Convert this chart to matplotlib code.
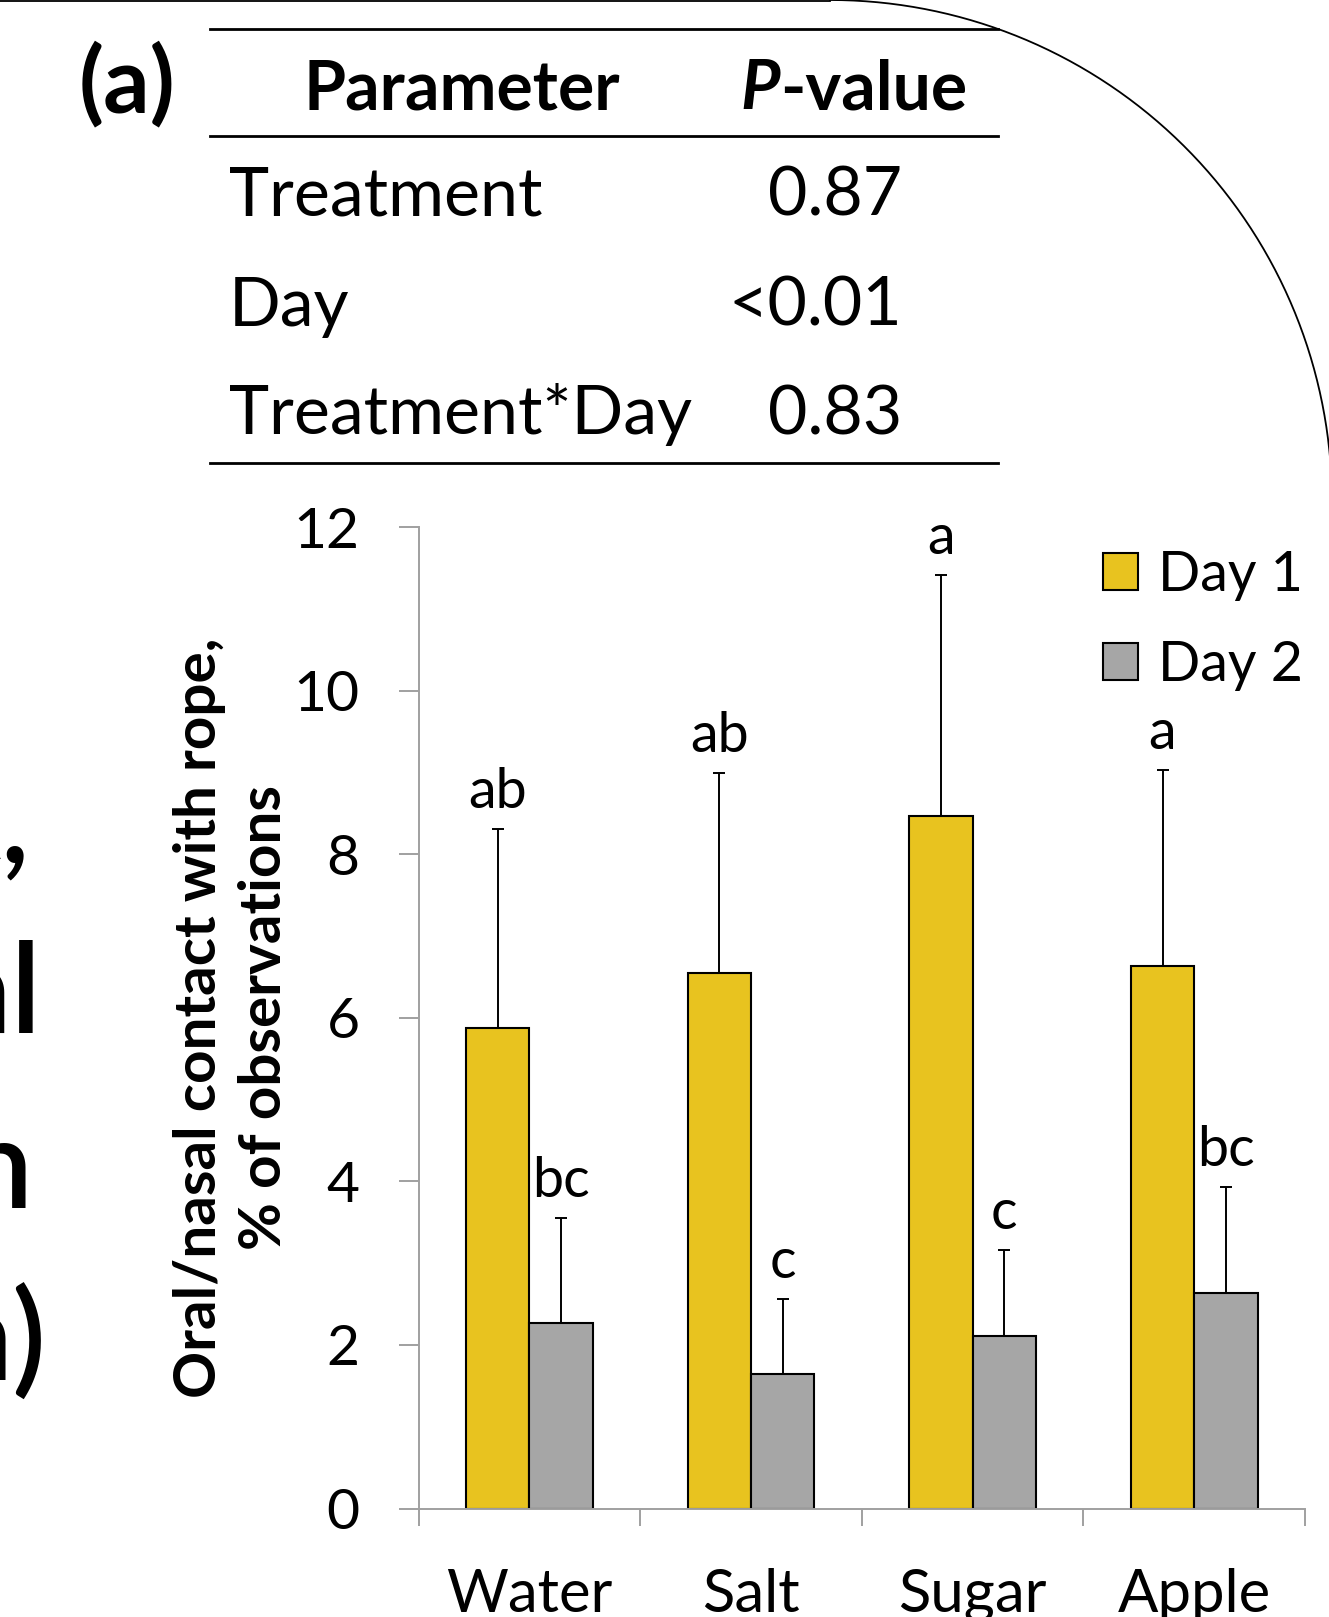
import matplotlib.pyplot as plt
import numpy as np

plt.rcParams['font.family'] = ['Lato', 'DejaVu Sans']

# --- data ---
treatments = ["Water", "Salt", "Sugar", "Apple"]
day1_mean = [5.87, 6.55, 8.47, 6.63]
day1_se = [2.44, 2.44, 2.94, 2.40]
day2_mean = [2.27, 1.64, 2.11, 2.63]
day2_se = [1.28, 0.92, 1.05, 1.30]
day1_letters = ["ab", "ab", "a", "a"]
day2_letters = ["bc", "c", "c", "bc"]

params = ["Treatment", "Day", "Treatment*Day"]
p_values = ["0.87", "<0.01", "0.83"]

yellow = "#E8C31F"
grey = "#A6A6A6"
axis_grey = "#A0A0A0"

W, H = 1329, 1617
fig = plt.figure(figsize=(W / 100, H / 100), dpi=100)

# --- overlay in pixel coords for the table, frame and cut-off text ---
deco = fig.add_axes([0, 0, 1, 1])
deco.set_xlim(0, W)
deco.set_ylim(H, 0)
deco.axis("off")

# rounded frame corner at the top right
cx, cy, R = 830, 502, 502
theta = np.linspace(-np.pi / 2, 0, 200)
deco.plot(cx + R * np.cos(theta), cy + R * np.sin(theta), color="black", lw=1.3)
deco.plot([0, cx], [1, 1], color="black", lw=1.3)

# ANOVA table
for yy in [29, 136, 463]:
    deco.plot([210, 998], [yy, yy], color="black", lw=2.0)
deco.text(127, 112, "(a)", fontsize=66, fontweight="bold", ha="center", va="baseline")
deco.text(462, 109, "Parameter", fontsize=49, fontweight="bold", ha="center", va="baseline")
deco.text(780, 109, "P", fontsize=49, fontweight="bold", style="italic", ha="right", va="baseline")
deco.text(780, 109, "-value", fontsize=49, fontweight="bold", ha="left", va="baseline")
row_y = [216, 326, 434]
for name, pv, yy in zip(params, p_values, row_y):
    deco.text(229, yy, name, fontsize=49, ha="left", va="baseline")
    deco.text(902, yy, pv, fontsize=49, ha="right", va="baseline")

# text of the neighbouring panel, cut by the left edge
for frag, xr, yb in [("t,", 30, 862), ("al", 42, 1033), ("n", 33, 1208), ("n)", 47, 1380)]:
    deco.text(xr, yb, frag, fontsize=90, fontweight="semibold", ha="right", va="baseline")

# --- bar chart ---
ax = fig.add_axes([418.6 / W, (H - 1508.5) / H, (1305 - 418.6) / W, (1508.5 - 527) / H])
x = np.arange(len(treatments))
w = 0.286
err_kw = dict(ecolor="black", elinewidth=1.4, capsize=4.5, capthick=1.4)
b1 = ax.bar(x - w / 2, day1_mean, w, color=yellow, edgecolor="black", linewidth=1.5,
            yerr=[np.zeros(4), day1_se], error_kw=err_kw, label="Day 1")
b2 = ax.bar(x + w / 2, day2_mean, w, color=grey, edgecolor="black", linewidth=1.5,
            yerr=[np.zeros(4), day2_se], error_kw=err_kw, label="Day 2")

for i in range(len(treatments)):
    ax.annotate(day1_letters[i], (x[i] - w / 2, day1_mean[i] + day1_se[i]),
                xytext=(0, 8), textcoords="offset points", ha="center", va="bottom", fontsize=40)
    ax.annotate(day2_letters[i], (x[i] + w / 2, day2_mean[i] + day2_se[i]),
                xytext=(0, 8), textcoords="offset points", ha="center", va="bottom", fontsize=40)

ax.set_xlim(-0.5, 3.5)
ax.set_ylim(0, 12)
ax.set_yticks(range(0, 13, 2))
ax.set_xticks(x)
ax.set_xticklabels(treatments)
ax.set_xticks(np.arange(-0.5, 4, 1), minor=True)
for s in ["top", "right"]:
    ax.spines[s].set_visible(False)
for s in ["left", "bottom"]:
    ax.spines[s].set_color(axis_grey)
    ax.spines[s].set_linewidth(1.4)
ax.tick_params(axis="y", length=14.5, width=1.4, color=axis_grey, labelsize=41, pad=28)
ax.tick_params(axis="x", which="major", length=0, labelsize=43, pad=43)
ax.tick_params(axis="x", which="minor", length=12.5, width=1.4, color=axis_grey)

ax.set_ylabel("Oral/nasal contact with rope,\n% of observations", fontsize=42,
              fontweight="bold", linespacing=1.28, labelpad=2)

ax.legend(loc="upper left", bbox_to_anchor=(1103, 550), bbox_transform=deco.transData,
          frameon=False, fontsize=40, handlelength=0.63, handleheight=0.63,
          handletextpad=0.36, labelspacing=0.7, borderpad=0, borderaxespad=0)

fig.savefig("out.png", dpi=100)
